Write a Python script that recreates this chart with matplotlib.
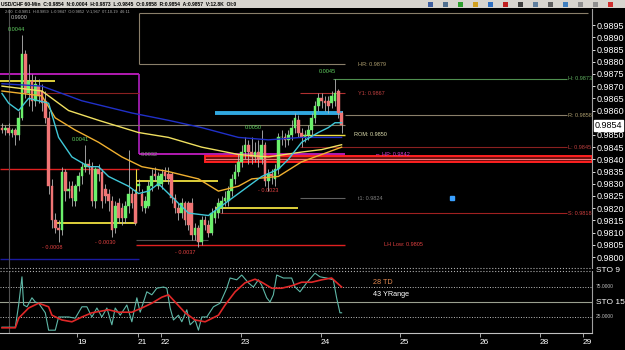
import matplotlib
matplotlib.use('Agg')
import matplotlib.pyplot as plt
from matplotlib.patches import Rectangle

plt.rcParams['font.family'] = ['Liberation Sans', 'DejaVu Sans']

# hourly candles USD/CHF
opens = [0.9853, 0.9852, 0.9853, 0.9851, 0.9852, 0.9850, 0.9857, 0.9883, 0.9867, 0.9872,
         0.9864, 0.9870, 0.9868, 0.9864, 0.9857, 0.9829, 0.9815, 0.9812, 0.9811, 0.9835,
         0.9827, 0.9829, 0.9823, 0.9829, 0.9833, 0.9837, 0.9838, 0.9837, 0.9823, 0.9836,
         0.9835, 0.9828, 0.9826, 0.9823, 0.9812, 0.9822, 0.9820, 0.9816, 0.9821, 0.9826,
         0.9826, 0.9829, 0.9826, 0.9820, 0.9821, 0.9829, 0.9834, 0.9829, 0.9830, 0.9835,
         0.9834, 0.9834, 0.9824, 0.9820, 0.9818, 0.9822, 0.9822, 0.9822, 0.9809, 0.9812,
         0.9806, 0.9815, 0.9813, 0.9810, 0.9816, 0.9818, 0.9820, 0.9823, 0.9823, 0.9827,
         0.9832, 0.9835, 0.9839, 0.9843, 0.9846, 0.9843, 0.9841, 0.9843, 0.9840, 0.9846,
         0.9831, 0.9834, 0.9832, 0.9836, 0.9849, 0.9849, 0.9848, 0.9850, 0.9853, 0.9856,
         0.9851, 0.9849, 0.9850, 0.9852, 0.9857, 0.9862, 0.9865, 0.9864, 0.9864, 0.9863,
         0.9864, 0.9868, 0.9859]
closes = [0.9852, 0.9853, 0.9851, 0.9852, 0.9850, 0.9857, 0.9883, 0.9867, 0.9872, 0.9864,
          0.9871, 0.9866, 0.9863, 0.9857, 0.9829, 0.9815, 0.9812, 0.9811, 0.9835, 0.9827,
          0.9828, 0.9824, 0.9829, 0.9833, 0.9837, 0.9838, 0.9837, 0.9823, 0.9836, 0.9834,
          0.9823, 0.9825, 0.9823, 0.9811, 0.9821, 0.9816, 0.9816, 0.9821, 0.9826, 0.9822,
          0.9814, 0.9830, 0.9821, 0.9823, 0.9829, 0.9833, 0.9833, 0.9833, 0.9834, 0.9833,
          0.9832, 0.9824, 0.9820, 0.9818, 0.9822, 0.9815, 0.9813, 0.9809, 0.9812, 0.9806,
          0.9815, 0.9813, 0.9810, 0.9818, 0.9819, 0.9822, 0.9823, 0.9824, 0.9827, 0.9832,
          0.9835, 0.9839, 0.9843, 0.9846, 0.9843, 0.9841, 0.9843, 0.9840, 0.9846, 0.9831,
          0.9834, 0.9833, 0.9836, 0.9849, 0.9849, 0.9848, 0.9850, 0.9853, 0.9857, 0.9851,
          0.9849, 0.9850, 0.9852, 0.9857, 0.9862, 0.9865, 0.9864, 0.9863, 0.9862, 0.9866,
          0.9867, 0.9859, 0.9854]
highs = [0.9855, 0.9854, 0.9855, 0.9853, 0.9853, 0.9860, 0.9891, 0.9885, 0.9879, 0.9875,
         0.9874, 0.9873, 0.9871, 0.9868, 0.9860, 0.9832, 0.9818, 0.9815, 0.9837, 0.9836,
         0.9831, 0.9831, 0.9830, 0.9835, 0.9839, 0.9846, 0.9840, 0.9839, 0.9837, 0.9838,
         0.9836, 0.9830, 0.9828, 0.9825, 0.9823, 0.9824, 0.9822, 0.9823, 0.9844, 0.9828,
         0.9828, 0.9832, 0.9828, 0.9825, 0.9831, 0.9836, 0.9837, 0.9835, 0.9836, 0.9837,
         0.9837, 0.9835, 0.9826, 0.9822, 0.9824, 0.9823, 0.9823, 0.9824, 0.9814, 0.9813,
         0.9817, 0.9817, 0.9815, 0.9820, 0.9821, 0.9824, 0.9825, 0.9827, 0.9829, 0.9834,
         0.9838, 0.9842, 0.9846, 0.9849, 0.9848, 0.9849, 0.9847, 0.9848, 0.9852, 0.9847,
         0.9836, 0.9836, 0.9838, 0.9851, 0.9852, 0.9851, 0.9852, 0.9856, 0.9859, 0.9858,
         0.9853, 0.9852, 0.9854, 0.9859, 0.9864, 0.9867, 0.9867, 0.9866, 0.9866, 0.9868,
         0.9873, 0.9869, 0.9860]
lows = [0.9851, 0.9850, 0.9850, 0.9849, 0.9846, 0.9848, 0.9856, 0.9865, 0.9862, 0.9860,
        0.9862, 0.9863, 0.9860, 0.9855, 0.9826, 0.9812, 0.9810, 0.9806, 0.9809, 0.9823,
        0.9824, 0.9821, 0.9821, 0.9827, 0.9830, 0.9835, 0.9834, 0.9821, 0.9820, 0.9831,
        0.9820, 0.9822, 0.9819, 0.9808, 0.9810, 0.9814, 0.9813, 0.9814, 0.9818, 0.9820,
        0.9813, 0.9827, 0.9819, 0.9818, 0.9820, 0.9827, 0.9831, 0.9828, 0.9828, 0.9831,
        0.9830, 0.9822, 0.9818, 0.9815, 0.9816, 0.9813, 0.9811, 0.9807, 0.9807, 0.9804,
        0.9805, 0.9811, 0.9808, 0.9809, 0.9814, 0.9816, 0.9818, 0.9821, 0.9821, 0.9825,
        0.9830, 0.9833, 0.9837, 0.9840, 0.9838, 0.9838, 0.9839, 0.9837, 0.9838, 0.9829,
        0.9827, 0.9830, 0.9829, 0.9834, 0.9846, 0.9845, 0.9846, 0.9848, 0.9851, 0.9849,
        0.9845, 0.9847, 0.9848, 0.9850, 0.9855, 0.9860, 0.9861, 0.9860, 0.9859, 0.9861,
        0.9862, 0.9857, 0.9851]

# moving averages, read at a handful of bars
ma_cyan_bar = [0, 2, 5, 8, 11, 14, 17, 21, 26, 29, 32, 38, 41, 44, 47, 50, 56, 62, 66, 72,
               78, 83, 86, 90, 95, 98, 100, 102]
ma_cyan = [0.9867, 0.9863, 0.9860, 0.9865, 0.9864, 0.9863, 0.9849, 0.9841, 0.9837, 0.9837,
           0.9833, 0.9829, 0.9826, 0.9827, 0.9830, 0.9826, 0.9818, 0.9817, 0.9821, 0.9827,
           0.9833, 0.9836, 0.9840, 0.9847, 0.9851, 0.9853, 0.9855, 0.9855]
ma_yellow_bar = [0, 12, 20, 29, 41, 50, 60, 71, 80, 90, 96, 102]
ma_yellow = [0.9870, 0.9868, 0.9860, 0.9856, 0.9851, 0.9849, 0.9845, 0.9842, 0.9841, 0.9843,
             0.9844, 0.9846]
ma_orange_bar = [0, 12, 16, 22, 29, 36, 42, 50, 59, 65, 71, 75, 83, 90, 96, 102]
ma_orange = [0.9868, 0.9866, 0.9857, 0.9852, 0.9847, 0.9841, 0.9837, 0.9835, 0.9832, 0.9827,
             0.9829, 0.9832, 0.9833, 0.9839, 0.9842, 0.9845]
ma_blue_bar = [0, 12, 24, 39, 50, 60, 71, 80, 90, 102]
ma_blue = [0.9871, 0.9870, 0.9864, 0.9859, 0.9856, 0.9853, 0.9849, 0.9848, 0.9849, 0.9849]

# stochastics (lower pane)
sto_fast_bar = [0, 4, 5, 6, 6.5, 7.5, 9, 10, 11, 13, 14, 16, 17, 20, 22, 24, 25.5, 27, 28.5, 30,
                31.5, 33, 34, 35.5, 37.5, 39, 40.5, 41.5, 43.5, 45, 46.5, 48.5, 49.5, 50.5,
                51.5, 53, 54, 55.5, 56.5, 58, 59, 60, 61.5, 63.5, 65.5, 67.5, 68.5, 70.5, 72,
                74, 75.5, 77, 78, 79.5, 80.5, 81.5, 82.5, 84.5, 87, 88, 89.5, 91.5, 94, 95.5,
                97.5, 99.5, 100.5, 101.5, 102]
sto_fast = [8, 8, 45, 92, 45, 42, 57, 50, 48, 32, 3, 3, 25, 25, 23, 42, 42, 25, 40, 25,
            40, 12, 40, 28, 45, 17, 57, 33, 67, 62, 73, 75, 73, 40,
            20, 28, 17, 37, 12, 20, 3, 25, 25, 42, 48, 73, 90, 87, 95,
            82, 75, 87, 78, 57, 50, 62, 95, 90, 90, 75, 67, 82, 98, 92,
            90, 87, 57, 32, 32]
sto_slow_bar = [0, 4, 5, 8, 11, 14, 15, 18, 21, 24, 27, 32, 35, 39, 42, 45, 48, 50, 52, 55,
                58, 61, 65, 67, 70, 73, 76, 78, 81, 84, 87, 90, 93, 96, 99, 102]
sto_slow = [7, 7, 23, 40, 48, 42, 28, 20, 17, 25, 32, 37, 33, 33, 40, 48, 58, 62, 50, 32,
            20, 17, 28, 45, 67, 82, 88, 83, 73, 73, 77, 83, 83, 87, 90, 75]

# key levels
box_top = 0.9900
hr_level = 0.9879
magenta_top = 0.9875
h_level = 0.9873
yellow_a = 0.9872
y1_level = 0.9867
r_level = 0.9858
blue_band = 0.9859
last_price = 0.9854
rom_level = 0.9850
l_level = 0.9845
hp_level = 0.9842
zone = (0.9839, 0.98415)
red_a = 0.9836
yellow_c = 0.9831
t1_level = 0.9824
yellow_d = 0.9820
s_level = 0.9818
yellow_b = 0.9814
lh_low = 0.9805
navy_level = 0.9799

price_ticks = [0.9800, 0.9805, 0.9810, 0.9815, 0.9820, 0.9825, 0.9830, 0.9835, 0.9840,
               0.9845, 0.9850, 0.9860, 0.9865, 0.9870, 0.9875, 0.9880, 0.9885, 0.9890,
               0.9895]
day_ticks = [22.5, 40.8, 47.7, 71.8, 95.8, 119.5, 143.5, 161.6, 174.5]
day_labels = ['19', '21', '22', '23', '24', '25', '26', '28', '29']

fig = plt.figure(figsize=(6.25, 3.5), dpi=100, facecolor='black')
ax = fig.add_axes([0, 1 - 268 / 350, 592 / 625, 259 / 350], facecolor='black')
sto = fig.add_axes([0, 1 - 333 / 350, 592 / 625, 62 / 350], facecolor='black')
xmin, xmax = -0.6, 177.2

# --- price pane ---
ax.set_xlim(xmin, xmax)
ax.set_ylim(0.97955, 0.99016)

# boxes and level lines
ax.hlines(box_top, 41.1, 176, color='#8a7f6a', lw=0.8)
ax.vlines(41.1, hr_level, box_top, color='#8a7f6a', lw=0.8)
ax.hlines(hr_level, 41.1, 103, color='#8a7f6a', lw=0.8)
ax.hlines(magenta_top, xmin, 41.1, color='#d020d0', lw=1.2)
ax.vlines(41.1, hp_level, magenta_top, color='#b020c0', lw=1.2)
ax.hlines(hp_level, 41.1, 103, color='#d020d0', lw=1.2)
ax.hlines(yellow_a, xmin, 16, color='#f0e040', lw=1.3)
ax.hlines(y1_level, 12.3, 41, color='#8a2020', lw=0.8)
ax.hlines(y1_level, 89.5, 103, color='#b03030', lw=0.8)
ax.hlines(last_price, xmin, 103, color='#807860', lw=0.8)
ax.hlines(red_a, xmin, 41, color='#e02020', lw=1.0)
ax.hlines(yellow_b, 16.5, 40.2, color='#f0e040', lw=1.3)
ax.vlines(40.2, red_a, yellow_b, color='#f0e040', lw=0.8)
ax.hlines(yellow_c, 40.2, 64.9, color='#f0e040', lw=1.3)
ax.hlines(yellow_d, 64, 88.9, color='#f0e040', lw=1.3)
ax.hlines(rom_level, 89.5, 103, color='#f0e040', lw=1.0)
ax.hlines(blue_band, 64, 102.5, color='#30a8e0', lw=2.8, zorder=4)
ax.hlines(r_level, 103, 169.7, color='#8a7f6a', lw=0.8)
ax.hlines(h_level, 99.4, 169.7, color='#509050', lw=0.8)
ax.hlines(l_level, 89.5, 169.7, color='#8a2020', lw=0.8)
ax.hlines(t1_level, 89.5, 103, color='#606060', lw=0.8)
ax.hlines(s_level, 65.5, 169.7, color='#a02020', lw=0.8)
ax.hlines(lh_low, 40.2, 103, color='#e02020', lw=1.0)
ax.hlines(0.9807, 40.2, 62, color='#505050', lw=0.8)
ax.hlines(navy_level, xmin, 41, color='#1a1aa0', lw=1.0)
ax.add_patch(Rectangle((61, zone[0]), xmax - 61, zone[1] - zone[0],
                       facecolor='#701010', edgecolor='#ff2020', lw=1.4, zorder=3))
ax.hlines(sum(zone) / 2, 61, xmax, color='#ff9090', lw=0.6, zorder=3)
ax.vlines(2.1, 0.97955, 0.99016, color='#505050', lw=0.8)

# candles
x = list(range(len(opens)))
up = [c >= o for o, c in zip(opens, closes)]
body_col = ['#6cf06c' if u else '#f07575' for u in up]
bottoms = [min(o, c) for o, c in zip(opens, closes)]
heights = [max(abs(c - o), 0.00003) for o, c in zip(opens, closes)]
ax.vlines(x, lows, highs, color='#b8b8b8', lw=0.6, zorder=5)
ax.bar(x, heights, bottom=bottoms, width=0.8, color=body_col, edgecolor=body_col,
       lw=0.3, zorder=6)

# moving averages
ax.plot(ma_blue_bar, ma_blue, color='#2030c8', lw=1.0, zorder=7)
ax.plot(ma_yellow_bar, ma_yellow, color='#f0e060', lw=1.0, zorder=7)
ax.plot(ma_orange_bar, ma_orange, color='#f0b030', lw=1.0, zorder=7)
ax.plot(ma_cyan_bar, ma_cyan, color='#40c8d8', lw=1.0, zorder=7)

ax.plot([135.1], [0.98242], marker='s', ms=2.2, color='#3aa0ff', lw=0)

# swing / level labels
fs = 4
ax.text(1.8, 0.9893, '0.0044', color='#60d060', fontsize=fs, va='center')
ax.text(2.7, 0.9898, '0.9900', color='#c0c0c0', fontsize=fs, va='center')
ax.text(21, 0.98483, '0.0041', color='#60d060', fontsize=fs, va='center')
ax.text(12, 0.9804, '- 0.0008', color='#e04040', fontsize=fs, va='center')
ax.text(28, 0.9806, '- 0.0030', color='#e04040', fontsize=fs, va='center')
ax.text(52, 0.9802, '- 0.0037', color='#e04040', fontsize=fs, va='center')
ax.text(41.6, 0.98418, '0.0032', color='#909090', fontsize=fs, va='center')
ax.text(73, 0.9853, '0.0050', color='#60d060', fontsize=fs, va='center')
ax.text(77, 0.98274, '- 0.0023', color='#e04040', fontsize=fs, va='center')
ax.text(95, 0.98758, '0.0045', color='#60d060', fontsize=fs, va='center')
ax.text(106.9, hr_level, 'HR: 0.9879', color='#b0a070', fontsize=fs, va='center')
ax.text(106.9, y1_level, 'Y1: 0.9867', color='#c04040', fontsize=fs, va='center')
ax.text(105.7, rom_level, 'ROM: 0.9850', color='#e0e0b0', fontsize=fs, va='center')
ax.text(112, hp_level, '\u2190 HP: 0.9842', color='#d040d0', fontsize=fs, va='center')
ax.text(106.9, t1_level, 't1: 0.9824', color='#808080', fontsize=fs, va='center')
ax.text(114.8, lh_low, 'LH Low: 0.9805', color='#e04040', fontsize=fs, va='center')
ax.text(170, h_level, 'H: 0.9873', color='#60b060', fontsize=fs, va='center')
ax.text(170, r_level, 'R: 0.9858', color='#b0a070', fontsize=fs, va='center')
ax.text(170, l_level, 'L: 0.9845', color='#c04040', fontsize=fs, va='center')
ax.text(170, s_level, 'S: 0.9818', color='#d04040', fontsize=fs, va='center')

ax.yaxis.tick_right()
ax.set_yticks(price_ticks)
ax.set_yticklabels(['%.4f' % p for p in price_ticks])
ax.tick_params(axis='y', colors='white', labelsize=6.5, length=2, width=0.6, pad=1.5)
ax.set_xticks([])
for side in ['top', 'left', 'bottom']:
    ax.spines[side].set_visible(False)
ax.spines['right'].set_color('#a0a0a0')
ax.text(1.005, last_price, '0.9854', transform=ax.get_yaxis_transform(), fontsize=6.5,
        color='black', va='center', ha='left',
        bbox=dict(boxstyle='square,pad=0.1', facecolor='white', edgecolor='white'))

# --- stochastic pane ---
sto.set_xlim(xmin, xmax)
sto.set_ylim(-1.7, 101.7)
sto.axhline(75, color='#c0c0c0', lw=0.7, ls=':')
sto.axhline(50, color='#9aa090', lw=0.8)
sto.axhline(25, color='#c0c0c0', lw=0.7, ls=':')
sto.axvline(2.1, color='#505050', lw=0.8)
sto.plot(sto_fast_bar, sto_fast, color='#5fb8a8', lw=0.8)
sto.plot(sto_slow_bar, sto_slow, color='#e02828', lw=1.2)
sto.text(111.5, 83, '28 TD', color='#e08850', fontsize=5.2, va='center')
sto.text(111.5, 62, '43 YRange', color='white', fontsize=5.2, va='center')
sto.set_yticks([])
sto.set_xticks(day_ticks)
sto.set_xticklabels(day_labels, ha='left')
sto.tick_params(axis='x', colors='#c0c0c0', labelcolor='white', labelsize=6, length=3,
                width=0.6, pad=1)
for side in ['top', 'left']:
    sto.spines[side].set_visible(False)
sto.spines['bottom'].set_color('#c0c0c0')
sto.spines['right'].set_color('#a0a0a0')

# right-hand labels of the lower pane
fig.text(596 / 625, 1 - 271 / 350, 'STO 9', color='white', fontsize=6, va='center')
fig.text(596 / 625, 1 - 287 / 350, '75.0000', color='#c0c0c0', fontsize=3.5, va='center')
fig.text(596 / 625, 1 - 302 / 350, 'STO 15', color='white', fontsize=6, va='center')
fig.text(596 / 625, 1 - 317 / 350, '25.0000', color='#c0c0c0', fontsize=3.5, va='center')

# separator between panes
for yy in (267.5, 270.5):
    fig.add_artist(plt.Line2D([0, 592 / 625], [1 - yy / 350] * 2, color='#b0b0b0',
                              lw=0.8, ls=':'))

# window title strip
fig.add_artist(Rectangle((0, 1 - 8 / 350), 1, 8 / 350, transform=fig.transFigure,
                         facecolor='#d8d5cf', edgecolor='none'))
fig.text(0.002, 1 - 4 / 350, 'USD/CHF 60-Min  C:0.9854  N:0.0004  H:0.9873  L:0.9845  '
         'O:0.9858  R:0.9854  A:0.9857  V:12.8K  OI:0', fontsize=3.6, color='black',
         va='center', weight='bold')
fig.text(0.008, 1 - 11.5 / 350, '2:00  C:0.9851  H:0.9859  L:0.9847  O:0.9852  V:1,967  '
         '07-10-19  46:11', fontsize=2.8, color='#b0b0b0', va='center')
icon_cols = ['#4060a0', '#507090', '#30a030', '#d0a020', '#3070c0', '#c02020', '#404040',
             '#6080a0', '#606060', '#4080c0', '#909090', '#909090', '#d03030']
for k, c in enumerate(icon_cols):
    fig.add_artist(Rectangle(((428 + 15 * k) / 625, 1 - 6.5 / 350), 5 / 625,
                             5 / 350, transform=fig.transFigure, facecolor=c,
                             edgecolor='none'))

fig.savefig('out.png', dpi=100, facecolor='black')
